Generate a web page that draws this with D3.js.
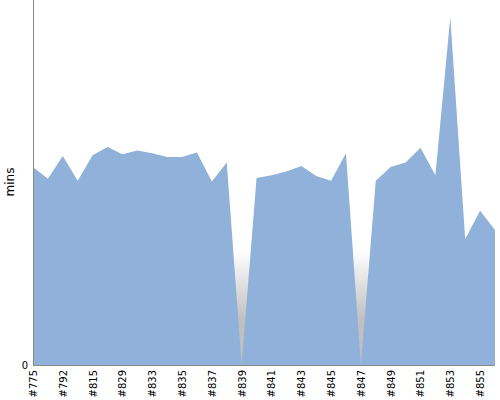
<!DOCTYPE html>
<html><head><meta charset="utf-8">
<script src="https://cdn.jsdelivr.net/npm/d3@7"></script>
<style>body{margin:0;background:#fff}svg{display:block}text{font-family:"DejaVu Sans",sans-serif}</style>
</head><body>
<svg id="c" width="500" height="400"></svg>
<script>
const builds = ["#775","#785","#792","#805","#815","#822","#829","#831","#833","#834","#835","#836","#837","#838","#839","#840","#841","#842","#843","#844","#845","#846","#847","#848","#849","#850","#851","#852","#853","#854","#855","#856"];
const mins = [21.7,20.4,22.9,20.2,23.0,23.9,23.1,23.5,23.2,22.8,22.8,23.3,20.1,22.2,0,20.5,20.8,21.2,21.8,20.7,20.2,23.2,0,20.2,21.7,22.2,23.8,20.8,38.1,13.8,16.9,14.8];
const failed = ["#839","#847"];
const failedHeight = 12.6;
const yTicks = [0];

const svg = d3.select("#c");
const x = d3.scalePoint().domain(builds).range([33, 495]);
const y = d3.scaleLinear().domain([0, 40]).range([365, 0]);
const step = x.step();

const defs = svg.append("defs");
const g = defs.append("linearGradient").attr("id","fg").attr("x1",0).attr("y1",0).attr("x2",0).attr("y2",1);
g.append("stop").attr("offset","0").attr("stop-color","#c0c0c0").attr("stop-opacity",0);
g.append("stop").attr("offset","0.6").attr("stop-color","#c0c0c0").attr("stop-opacity",1);
g.append("stop").attr("offset","1").attr("stop-color","#c0c0c0").attr("stop-opacity",1);

svg.selectAll("rect.fail").data(failed).join("rect").attr("class","fail")
  .attr("x", d => x(d) - step/2).attr("width", step)
  .attr("y", y(failedHeight)).attr("height", y(0) - y(failedHeight))
  .attr("fill","url(#fg)");

const area = d3.area().x((d,i) => x(builds[i])).y0(y(0)).y1(d => y(d));
svg.append("path").datum(mins).attr("d", area).attr("fill", "#8fb1da");

const xAxis = d3.axisBottom(x).tickSize(0).tickPadding(4)
  .tickValues(builds.filter((d,i) => i % 2 === 0));
const xg = svg.append("g").attr("transform","translate(0,365)").call(xAxis);
xg.select(".domain").attr("stroke","#888").attr("d","M33,0.5H495");
xg.selectAll("text").attr("transform","rotate(-90)").attr("text-anchor","end")
  .attr("x",-5).attr("y",0).attr("dy","0.35em").attr("font-size",10).attr("fill","#000");

const yAxis = d3.axisLeft(y).tickValues(yTicks).tickSize(0).tickPadding(5);
const yg = svg.append("g").attr("transform","translate(33,0)").call(yAxis);
yg.select(".domain").attr("stroke","#888").attr("d","M0.5,0V365");
yg.selectAll("text").attr("font-size",10).attr("fill","#000");

svg.append("text").attr("transform","translate(14,182) rotate(-90)")
  .attr("text-anchor","middle").attr("font-size",12).text("mins");
</script>
</body></html>
